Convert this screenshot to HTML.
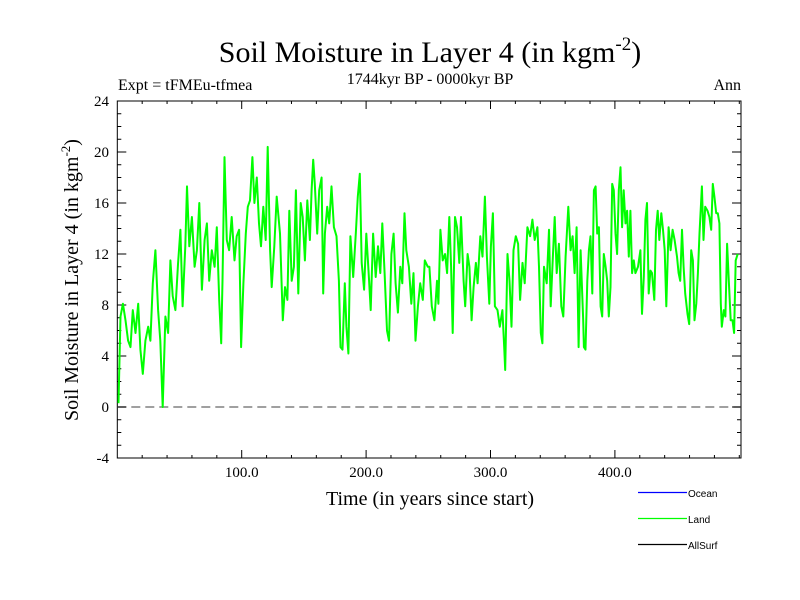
<!DOCTYPE html>
<html><head><meta charset="utf-8"><style>
body{margin:0;background:#fff;}
svg{display:block;font-family:"Liberation Serif",serif;}
</style></head><body>
<svg id="chart" width="800" height="600" viewBox="0 0 800 600">
<text x="430" y="62" font-size="30" text-anchor="middle">Soil Moisture in Layer 4 (in kgm<tspan dy="-12" font-size="19">-2</tspan><tspan dy="12">)</tspan></text>
<text x="430" y="84" font-size="16" text-anchor="middle">1744kyr BP - 0000kyr BP</text>
<text x="118" y="90" font-size="16">Expt = tFMEu-tfmea</text>
<text x="741" y="90" font-size="16" text-anchor="end">Ann</text>
<text transform="translate(78,280) rotate(-90)" font-size="20" text-anchor="middle">Soil Moisture in Layer 4 (in kgm<tspan dy="-8" font-size="13">-2</tspan><tspan dy="8">)</tspan></text>
<text x="430" y="505" font-size="20" text-anchor="middle">Time (in years since start)</text>
<g id="axes"></g>
<g id="series"></g>
<g id="legend" font-family="Liberation Sans, sans-serif" font-size="10">
 <g><line x1="638" y1="492.5" x2="687" y2="492.5" stroke="#0000ff" stroke-width="1.2"/><text x="688" y="497">Ocean</text></g>
 <g><line x1="638" y1="518.5" x2="687" y2="518.5" stroke="#00ff00" stroke-width="1.2"/><text x="688" y="523">Land</text></g>
 <g><line x1="638" y1="544.5" x2="687" y2="544.5" stroke="#000" stroke-width="1.2"/><text x="688" y="549">AllSurf</text></g>
</g>
</svg>
<script>
const years = [1,2.6,4.5,6.6,8.7,10.6,12.5,14.6,16.8,18.6,20.5,22.6,24.8,26.6,28.5,30.6,32.8,34.6,36.5,38.7,40.8,42.7,44.5,46.7,48.8,50.7,52.5,54.7,56,57.9,60,62.1,64,65.9,68,70.2,72,73.9,76,78.2,80,81.9,83.5,84.6,86.2,88,89.9,92,94.2,96,97.9,99.5,101.4,103.3,104.9,106.7,108.6,110.2,112.1,113.9,115.5,117.4,119.3,120.9,122.8,124.1,126.2,
128.1,130.8,133,134.8,136.7,138.3,140.2,142,143.6,145.5,147.4,149,150.8,152.7,154.8,156.2,157.5,158.8,160.7,162.3,164.2,165.5,166.9,168.7,170.3,172.2,174.1,176.2,178.1,179.4,181,182.9,184.2,185.8,187.4,189.6,191.7,193.3,194.9,196.5,198.4,200.2,202.4,203.7,205.6,207.7,209.6,211.4,213,214.9,216.8,218.4,220.3,222.1,223.7,225.6,227.5,229.1,230.9,232.3,234.4,236.3,238.1,239.7,241.6,243.5,245.6,247.2,249.6,
250.9,252.8,254.9,257,258.1,259.7,261.6,263.5,265.1,266.9,268.3,269.6,271.5,273.1,274.9,276.3,278.4,279.7,281.6,283,284.8,286.4,288.3,289.6,291.8,293.6,295.5,297.1,299,300.3,301.9,303.5,305.6,307.5,309.6,311,311.8,313.7,315.3,316.9,318.5,320.3,322.2,323.8,325.7,327.5,329.7,331.8,333.7,335.5,337.7,339,340.4,341.7,343,345.2,347,348.4,350,351.6,353.2,355,356.9,358.5,360.4,362.5,364.4,366,367.6,369.2,370.8,372.4,374.5,
375.1,376.4,377.8,379.1,380.4,381.8,383.1,384.5,385.8,387.1,388.5,389.8,391.1,392.5,393.8,395.1,396.5,397.8,399.1,400.5,401.8,403.1,404.5,405.8,407.1,408.5,409.8,411.2,412.5,413.8,415.2,416.5,418.6,420.5,421.8,423.2,424.5,425.8,427.2,428.5,429.8,431.7,433,434.4,435.7,437.3,438.7,440,441.3,443.2,444.8,446.4,448,449.9,451.2,452.5,453.9,455.2,456.5,458.4,459.7,461.3,462.7,464,465.4,466.7,468,469.9,471.2,472.6,474.4,476,477.4,478.7,480,481.4,482.7,484,485.1,485.9,487.5,488.8,490.2,491.8,493.1,494.5,495.8,497.1,498.7];
const landValues = [0.3,7.1,8.1,6.8,5.2,4.7,7.6,5.8,8.1,4.5,2.6,5.2,6.3,5.2,9.7,12.3,7.6,5.2,0,7.1,5.8,11.5,8.7,7.6,11.2,13.9,7.9,12.6,17.3,12.6,14.9,11,12.3,16,9.2,13.1,14.4,9.9,12.3,11,14.1,8.4,5,9.9,19.6,13.1,12.3,14.9,11.5,13.4,13.9,4.7,9.7,13.6,15.7,16.2,19.6,16,18,14.4,12.6,15.7,13.1,20.4,12.3,9.4,12.6,
16.5,13.6,6.8,9.4,8.4,15.4,9.9,11,17,8.9,16,14.9,11.5,16.2,13.1,17,19.4,17.5,13.6,17,18,8.9,13.6,15.7,14.4,17.3,14.1,13.4,9.9,4.7,4.5,9.7,6.3,4.2,13.4,10.2,13.6,16.5,18.3,11.3,9.2,13.6,9.9,7.6,13.6,10.2,12.6,10.5,14.4,10.5,6,5.2,12,13.6,9.7,7.4,11,9.7,15.2,12.3,11,8.1,10.5,5.2,7.9,9.7,8.4,11.5,11,
11,7.9,6.8,9.9,8.1,13.9,11.5,12,10.5,14.9,11,5.8,14.9,14.1,11.3,14.9,9.9,7.9,12,11,6.8,9.4,11.3,9.7,13.4,11.8,16.5,11.8,8.1,12.6,15.2,7.9,7.6,6.3,7.6,4.7,2.9,12,9.9,6.3,12.3,13.4,12.8,8.4,11.3,9.7,14.1,13.4,14.7,13.1,14.1,11,5.8,5,11,9.7,13.9,7.9,11.5,14.9,10.5,12.8,7.9,7.1,11.8,15.7,12.3,13.4,10.5,14.1,4.7,12.3,6.8,
4.7,4.5,9.9,12.3,13.4,8.9,17,17.3,13.6,14.1,7.9,7.1,12,11,9.9,7.1,9.4,17.5,17,13.6,12,17,18.8,14.1,17,14.4,15.4,11.8,15.4,10.5,11.5,10.5,11,12.3,7.3,10.2,14.7,16,8.9,10.7,10.5,8.4,13.9,15.4,13.1,15.2,13.9,12.3,7.9,14.1,12.3,13.9,13.1,11.8,10.5,9.9,13.9,11,8.9,7.3,6.5,12.3,11.5,6.8,8.1,10.5,13.6,17.3,13.1,15.7,15.4,14.9,13.9,17.5,16.5,15.2,15.2,14.4,8.1,6.3,7.6,7.1,12.8,9.4,6.8,6.8,5.8,11.5,12];
const yTicks = [-4,0,4,8,12,16,20,24];
const xTickLabels = [100,200,300,400];

const L=117.3,R=741,T=101,B=458;
const xMin=0,xMax=(R-L)/1.244,yMin=-4,yMax=24;
const xs=v=>L+(v-xMin)/(xMax-xMin)*(R-L);
const ys=v=>B-(v-yMin)/(yMax-yMin)*(B-T);
const NS='http://www.w3.org/2000/svg';
function mk(tag,attrs,parent){const e=document.createElementNS(NS,tag);for(const k in attrs)e.setAttribute(k,attrs[k]);parent.appendChild(e);return e;}
const axes=document.getElementById('axes');
let frame=mk('rect',{x:L,y:T,width:R-L,height:B-T,fill:'none',stroke:'#000','stroke-width':1},axes);


let zl=mk('line',{x1:L,x2:R,y1:ys(0),y2:ys(0),stroke:'#808080','stroke-width':1.5,'stroke-dasharray':'9,5'},axes);


for(let v=yMin;v<=yMax;v++){
  const maj=yTicks.includes(v);const len=maj?9:4;const y=ys(v);
  let a=mk('line',{x1:L,x2:L+len,y1:y,y2:y,stroke:'#000'},axes);
  
  
  let b=mk('line',{x1:R,x2:R-len,y1:y,y2:y,stroke:'#000'},axes);
  
  
}
yTicks.forEach(v=>{
  let t=mk('text',{x:109,y:ys(v)+5,'font-size':15,'text-anchor':'end'},axes);t.textContent=v;
  
  
});
for(let v=20;v<xMax;v+=20){
  const maj=xTickLabels.includes(v);const len=maj?8:3;const x=xs(v);
  let a=mk('line',{x1:x,x2:x,y1:B,y2:B-len,stroke:'#000'},axes);
  
  
  let b=mk('line',{x1:x,x2:x,y1:T,y2:T+len,stroke:'#000'},axes);
  
  
}
xTickLabels.forEach(v=>{
  let t=mk('text',{x:xs(v),y:477,'font-size':15,'text-anchor':'middle'},axes);t.textContent=v.toFixed(1);
  
  
});
const pts=years.map((yr,i)=>xs(yr).toFixed(1)+','+ys(landValues[i]).toFixed(1)).join(' ');
let line=mk('polyline',{points:pts,fill:'none',stroke:'#00ff00','stroke-width':2,'stroke-linejoin':'round'},document.getElementById('series'));


</script>
</body></html>
